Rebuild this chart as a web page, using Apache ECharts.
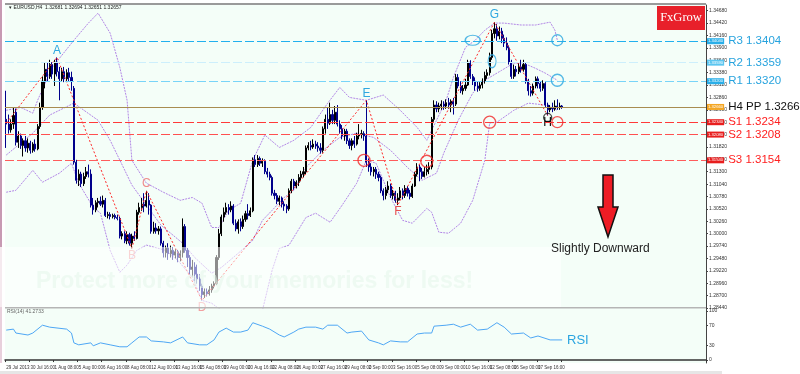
<!DOCTYPE html>
<html><head><meta charset="utf-8">
<script src="https://cdn.jsdelivr.net/npm/echarts@6/dist/echarts.min.js"></script>
<style>html,body{margin:0;padding:0;background:#fff}#c{width:800px;height:374px}</style>
</head><body><div id="c"></div>
<script>
// prices are stored as pips above BASE (value v  ->  price = BASE + v*PIP)
const BASE = 1.28, PIP = 0.0001;
const N_SLOTS = 290;

// H4 candles: [open, close, low, high]
const candles = [
[440,430,380,500],[430,418,410,450],[418,430,412,440],[430,448,420,465],[455,392,385,462],
[392,405,380,415],[405,385,378,410],[385,395,362,400],[395,380,372,405],[380,390,370,400],
[390,375,368,395],[375,388,370,392],[388,378,372,398],[378,425,375,430],[425,465,420,475],
[465,520,460,530],[520,545,505,560],[545,530,520,560],[530,555,525,565],[555,535,525,560],
[535,560,510,565],[560,540,530,570],[540,525,480,550],[525,540,520,548],[540,525,518,550],
[525,538,520,545],[538,528,520,548],[528,520,500,540],[505,350,345,510],[350,312,305,355],
[312,325,300,335],[325,305,298,330],[305,320,300,328],[320,330,315,340],[330,325,318,345],
[325,260,255,335],[260,250,240,275],[250,265,245,270],[265,268,255,275],[268,262,258,278],
[262,270,255,280],[270,238,235,275],[238,240,232,246],[240,236,230,245],[236,238,232,242],
[238,234,230,242],[234,232,228,240],[232,195,190,236],[195,200,188,205],[200,185,180,205],
[185,198,178,205],[198,180,175,202],[180,195,169,200],[195,190,185,205],[190,245,188,250],
[245,255,240,265],[255,262,248,275],[262,258,245,285],[258,270,255,290],[270,260,240,285],
[260,205,200,262],[205,212,200,225],[212,206,200,222],[206,210,198,216],[210,180,175,215],
[180,160,150,185],[160,170,150,175],[170,158,145,180],[158,165,150,175],[165,155,145,172],
[155,162,148,168],[162,150,140,166],[150,158,142,165],[160,215,150,232],[215,165,160,220],
[165,150,130,170],[150,125,115,155],[125,130,110,145],[130,115,100,140],[115,105,95,135],
[105,90,80,115],[90,72,60,95],[72,78,65,85],[78,74,68,85],[74,82,70,90],
[82,90,76,95],[90,95,85,100],[95,150,92,155],[150,200,145,210],[200,235,195,240],
[235,245,225,255],[245,255,240,265],[255,250,240,262],[250,258,245,268],[258,222,218,262],
[222,210,205,230],[210,225,200,230],[225,215,205,232],[215,230,210,238],[230,242,225,248],
[242,238,230,262],[238,248,235,255],[248,355,245,360],[355,345,340,365],[345,358,340,365],
[358,348,342,362],[348,352,340,358],[352,330,325,356],[330,325,318,338],[325,318,312,330],
[318,285,280,322],[285,280,272,292],[280,268,262,285],[268,275,260,280],[275,262,255,278],
[262,258,248,268],[258,252,243,262],[252,290,248,295],[290,310,285,315],[310,300,292,315],
[300,308,295,312],[308,318,300,325],[318,325,310,332],[325,330,318,340],[330,380,325,385],
[380,385,375,392],[385,382,375,395],[382,388,378,398],[388,384,378,395],[384,380,372,392],
[380,375,368,390],[375,420,370,425],[420,440,410,450],[440,432,420,465],[432,450,428,475],
[450,438,430,460],[438,455,430,468],[455,430,425,470],[430,420,410,438],[420,405,398,428],
[405,415,395,420],[415,395,388,420],[395,385,378,400],[385,395,375,400],[395,388,380,405],
[388,405,385,412],[405,408,398,430],[408,410,400,418],[410,405,395,415],[405,350,340,480],
[350,340,330,358],[340,330,322,348],[330,335,320,340],[335,325,315,340],[325,318,310,330],
[318,290,285,322],[290,280,270,295],[280,292,272,298],[292,300,285,310],[300,280,275,305],
[280,285,272,292],[285,270,265,290],[270,275,260,285],[275,290,270,298],[290,280,272,295],
[280,295,275,302],[295,285,278,300],[285,278,272,292],[278,300,275,305],[300,325,298,330],
[325,340,320,348],[340,330,310,345],[330,320,315,338],[320,330,318,340],[330,335,322,345],
[335,340,325,350],[340,440,335,445],[440,470,435,480],[470,462,455,478],[462,468,455,475],
[468,472,460,480],[472,468,460,478],[468,475,462,482],[475,470,462,485],[470,478,455,482],
[478,472,450,485],[472,528,468,535],[528,510,505,535],[510,500,495,520],[500,505,492,512],
[505,512,500,525],[512,560,510,565],[560,530,525,564],[530,520,512,535],[520,510,500,528],
[510,505,498,520],[505,512,500,518],[512,520,505,526],[520,532,515,540],[532,538,525,545],
[538,570,532,580],[570,620,565,628],[620,630,610,644],[630,615,605,640],[615,625,608,635],
[625,610,600,632],[610,600,592,618],[600,590,585,612],[590,560,555,595],[560,530,525,565],
[530,545,525,555],[545,540,530,552],[540,550,535,558],[550,545,538,565],[545,555,540,565],
[555,520,515,560],[520,500,490,525],[500,495,488,510],[495,510,490,515],[510,525,505,530],
[525,515,505,530],[515,505,498,520],[505,515,500,522],[515,470,465,518],[470,460,448,475],
[460,465,455,470],[465,462,455,475],[462,468,458,480],[468,465,460,482],[465,468,460,475],
[468,466,462,470]
];

// Bollinger bands: [candle index, pips]
const upperBand = [[0,459],[6,465],[11,453],[13,480],[19,549],[28,606],[34,642],[38,663],[43,621],[47,549],[50,480],[52,354],[58,306],[65,287],[72,270],[77,276],[81,264],[85,213],[88,213],[92,249],[97,264],[102,354],[107,407],[113,381],[119,396],[126,423],[133,474],[138,507],[142,486],[149,480],[156,491],[163,459],[170,423],[174,396],[176,417],[182,480],[185,528],[190,591],[194,606],[198,627],[202,642],[206,642],[213,638],[219,638],[225,644],[227,627],[228,606]];
const middleBand = [[0,365],[11,411],[18,449],[28,474],[38,438],[43,396],[48,344],[52,302],[58,260],[64,218],[73,180],[78,150],[85,117],[89,129],[96,159],[102,186],[106,228],[110,249],[115,276],[119,291],[124,339],[131,375],[138,402],[145,411],[152,402],[159,375],[166,339],[172,312],[178,327],[181,369],[187,438],[193,495],[198,522],[205,543],[210,558],[214,558],[219,547],[223,537],[228,522]];
const lowerBand = [[0,287],[4,291],[11,333],[15,308],[22,327],[27,348],[30,306],[36,255],[39,243],[43,165],[47,119],[50,134],[54,165],[58,176],[66,165],[71,144],[77,108],[81,60],[85,54],[89,39],[95,-24],[101,-24],[106,39],[110,123],[113,169],[117,176],[124,234],[128,243],[134,224],[139,260],[145,306],[149,354],[153,348],[159,276],[164,228],[168,222],[174,253],[176,245],[179,203],[183,201],[188,222],[193,270],[198,354],[200,432],[203,434],[210,459],[216,474],[223,470],[228,459]];

// zigzag swing points
const zigzagIdx   = [0,21,52,58,81,149,162,202,224];
const zigzagVal   = [432,570,169,290,60,480,260,644,448];
const zigzagNames = ['','A','B','C','D','E','F','G','H'];

// RSI(14): [candle index, value]
const rsi = [[0,61],[3,63],[4,55],[9,51],[11,55],[15,71],[18,67],[25,63],[27,55],[28,35],[30,31],[35,35],[36,29],[39,35],[43,31],[47,27],[50,27],[52,35],[55,47],[58,47],[60,39],[65,37],[68,35],[73,47],[75,35],[80,31],[83,31],[86,41],[88,57],[91,65],[94,57],[97,57],[100,61],[102,76],[106,69],[109,63],[113,51],[115,47],[119,57],[121,63],[124,67],[128,67],[131,63],[133,71],[137,71],[141,55],[143,57],[147,59],[150,41],[154,35],[156,31],[159,39],[163,37],[166,37],[170,53],[173,55],[176,55],[177,69],[182,71],[185,73],[188,67],[192,73],[195,61],[199,63],[203,76],[206,67],[209,53],[214,55],[217,45],[220,49],[225,41],[230,41]];

// H4 pivot levels
const levelNames  = ['R3','R2','R1','H4 PP','S1','S2','S3'];
const levelValues = [1.3404,1.3359,1.3320,1.3266,1.3234,1.3208,1.3154];

// date tick labels (every 10 candles)
const dateLabels = ['29 Jul 2013','30 Jul 16:00','1 Aug 08:00','5 Aug 00:00','6 Aug 16:00','8 Aug 08:00','12 Aug 00:00','13 Aug 16:00','15 Aug 08:00','19 Aug 00:00','20 Aug 16:00','22 Aug 08:00','26 Aug 00:00','27 Aug 16:00','29 Aug 08:00','2 Sep 00:00','3 Sep 16:00','5 Sep 08:00','9 Sep 00:00','10 Sep 16:00','12 Sep 08:00','16 Sep 00:00','17 Sep 16:00','19 Sep 08:00'];

// annotation circles at [candle index, pips]
const circleAt   = [[193,606],[201,562],[228,606],[228,522],[148,354],[174,352],[200,434],[228,434],[224,444]];
const circleKind = ['b','b','b','b','r','r','r','r','k'];

// ---------- styles ----------
const FONT = 'Liberation Sans';
const px = v => +(BASE + v * PIP).toFixed(5);
const cats = Array.from({length: N_SLOTS}, (_, i) => String(i));
const bandStyle = {color:'#B286E6', width:1, type:[2,1]};
const levelStyle = [
  {line:'#22B0EE', type:[9,3], tag:'#2AAEE8', text:'#27A3DE'},
  {line:'#CDEFFC', type:[9,3], tag:'#5CC6F0', text:'#27A3DE'},
  {line:'#78D4F8', type:[9,3], tag:'#2AAEE8', text:'#27A3DE'},
  {line:'#A88C50', type:'solid', tag:'#F4A623', text:'#111111'},
  {line:'#FF3A3A', type:[9,3], tag:'#E81E1E', text:'#FF2020'},
  {line:'#FF5050', type:[9,3], tag:'#E81E1E', text:'#FF2020'},
  {line:'#FF5C5C', type:[9,3], tag:'#E81E1E', text:'#FF2020'}
];
const zzColors = ['#000','#2FA7E0','#F2A0A0','#EE8C8C','#F2A0A0','#2FA7E0','#E85050','#2FA7E0','#000000'];
const circleColor = {b:'#2AA6E0', r:'#F02828', k:'#111'};
const circleSize  = [[15,10],[8,13],[11,11],[12,12],[12,12],[12,12],[12,12],[11,11],[8,8]];

const levelLines = levelValues.map((v, k) => ({
  yAxis: v,
  lineStyle: {color: levelStyle[k].line, type: levelStyle[k].type, width: 1},
  label: {
    show: true, position: 'end', distance: 1,
    formatter: '{t|' + v.toFixed(5) + '}{g|}{n|' + levelNames[k] + ' ' + v.toFixed(4) + '}',
    rich: {
      t: {backgroundColor: levelStyle[k].tag, color:'#fff', fontSize:4.2, fontFamily:FONT, padding:[1,1,1,1], verticalAlign:'middle'},
      g: {width:4},
      n: {color: levelStyle[k].text, fontSize:11.5, fontFamily:FONT, verticalAlign:'middle'}
    }
  }
}));

const zzData = zigzagIdx.map((i, k) => {
  const v = zigzagVal[k];
  const prev = k > 0 ? zigzagVal[k-1] : -Infinity;
  const next = k < zigzagVal.length - 1 ? zigzagVal[k+1] : -Infinity;
  const isHigh = k === zigzagVal.length - 1 ? v > prev : (v > prev && v > next);
  return {
    value: [i, px(v)],
    label: {show: zigzagNames[k] !== '', formatter: zigzagNames[k], position: isHigh ? 'top' : 'bottom',
            distance: 1, color: zzColors[k], fontSize: 12, fontFamily: FONT}
  };
});

const circleData = circleAt.map((p, k) => ({
  value: [p[0], px(p[1])],
  symbolSize: circleSize[k],
  itemStyle: {borderColor: circleColor[circleKind[k]]}
}));

const labelTick = (idx) => idx % 10 === 0 && idx / 10 < dateLabels.length;

const chart = echarts.init(document.getElementById('c'), null, {renderer:'canvas'});
chart.setOption({
  animation: false,
  backgroundColor: '#ffffff',
  grid: [
    {left:5, top:5, width:701, height:303, show:true, backgroundColor:'#F4FEF8', borderWidth:0},
    {left:5, top:308, width:701, height:55, show:true, backgroundColor:'#F4FEF8', borderWidth:0}
  ],
  xAxis: [
    {type:'category', gridIndex:0, data:cats, boundaryGap:true, axisLine:{show:false}, axisTick:{show:false}, axisLabel:{show:false}, splitLine:{show:false}},
    {type:'category', gridIndex:1, data:cats, boundaryGap:true,
     axisLine:{show:true, lineStyle:{color:'#333', width:1.5}},
     axisTick:{show:true, interval: labelTick, length:2, lineStyle:{color:'#333'}},
     axisLabel:{show:true, interval: labelTick, showMinLabel:true, hideOverlap:false, formatter:(val, idx) => dateLabels[idx/10] || '', fontSize:4.5, color:'#333', fontFamily:FONT, align:'left', margin:2},
     splitLine:{show:false}}
  ],
  yAxis: [
    {type:'value', gridIndex:0, position:'right', min:1.2844, max:1.3480, interval:0.0026,
     axisLine:{show:true, lineStyle:{color:'#444'}}, axisTick:{show:true, length:2, lineStyle:{color:'#444'}},
     axisLabel:{fontSize:5, color:'#333', margin:3, fontFamily:FONT, showMaxLabel:false, formatter: v => v.toFixed(5)},
     splitLine:{show:false}},
    {type:'value', gridIndex:1, position:'right', min:-6, max:106,
     axisLine:{show:true, lineStyle:{color:'#444'}},
     axisTick:{show:true, length:2, customValues:[0,30,70,100], lineStyle:{color:'#444'}},
     axisLabel:{fontSize:5, color:'#333', margin:3, fontFamily:FONT, customValues:[0,30,70,100]},
     splitLine:{show:false}}
  ],
  series: [
    {type:'line', xAxisIndex:0, yAxisIndex:0, data: upperBand.map(p => [p[0], px(p[1])]), symbol:'none', lineStyle:bandStyle, z:2, silent:true},
    {type:'line', xAxisIndex:0, yAxisIndex:0, data: middleBand.map(p => [p[0], px(p[1])]), symbol:'none', lineStyle:bandStyle, z:2, silent:true},
    {type:'line', xAxisIndex:0, yAxisIndex:0, data: lowerBand.map(p => [p[0], px(p[1])]), symbol:'none', lineStyle:bandStyle, z:2, silent:true},
    {type:'candlestick', xAxisIndex:0, yAxisIndex:0, data: candles.map(r => r.map(px)), barWidth:1.6, z:3,
     itemStyle:{color:'#000000', color0:'#00008B', borderColor:'#000000', borderColor0:'#00008B', borderWidth:1},
     markLine:{symbol:['none','none'], silent:true, animation:false, precision:5, data: levelLines}},
    {type:'line', xAxisIndex:0, yAxisIndex:0, data: zzData, symbol:'circle', symbolSize:0.1, showSymbol:true,
     itemStyle:{color:'rgba(0,0,0,0)'}, lineStyle:{color:'#FF2A2A', width:1, type:[2,2]}, z:4, silent:true},
    {type:'scatter', xAxisIndex:0, yAxisIndex:0, data: circleData, symbol:'circle',
     itemStyle:{color:'rgba(0,0,0,0)', borderWidth:1.3}, z:5, silent:true},
    {type:'line', xAxisIndex:1, yAxisIndex:1, data: rsi, symbol:'none', lineStyle:{color:'#4EA7F5', width:1}, z:3, silent:true}
  ],
  graphic: [
    {type:'rect', shape:{x:0, y:0, width:2, height:247}, style:{fill:'#C79AB3'}, z:100},
    {type:'rect', shape:{x:0, y:247, width:2, height:116}, style:{fill:'#E8D0DC'}, z:100},
    {type:'rect', shape:{x:5, y:3, width:701, height:2}, style:{fill:'#9A9A9A'}, z:100},
    {type:'rect', shape:{x:5, y:307, width:701, height:1.5}, style:{fill:'#B5B5B5'}, z:100},
    {type:'rect', shape:{x:0, y:371, width:722, height:3}, style:{fill:'#E6E6E6'}, z:100},
    {type:'text', x:9, y:8, style:{text:'\u25BE EURUSD,H4  1.32681 1.32694 1.32651 1.32657', fontSize:5, fill:'#222', fontFamily:FONT, verticalAlign:'middle'}, z:100},
    {type:'text', x:7, y:312, style:{text:'RSI(14) 41.2733', fontSize:5, fill:'#666', fontFamily:FONT, verticalAlign:'middle'}, z:100},
    {type:'rect', shape:{x:0, y:247, width:561, height:60}, style:{fill:'rgba(255,255,255,0.55)'}, z:101},
    {type:'text', x:36, y:282, style:{text:'Protect more of your memories for less!', fontSize:23, fontWeight:'bold', fill:'rgba(228,246,234,0.55)', fontFamily:FONT, verticalAlign:'middle'}, z:102},
    {type:'rect', shape:{x:657, y:6, width:48, height:24}, style:{fill:'#E8202A'}, z:110},
    {type:'text', x:681, y:18, style:{text:'FxGrow', fontSize:12.5, fill:'#fff', fontFamily:'Liberation Serif', align:'center', verticalAlign:'middle'}, z:111},
    {type:'polygon', shape:{points:[[603,175],[613,175],[613,207],[618,207],[608,237],[598,207],[603,207]]}, style:{fill:'#EE1C25', stroke:'#111', lineWidth:1.5}, z:110},
    {type:'text', x:551, y:249, style:{text:'Slightly Downward', fontSize:12, fill:'#222', fontFamily:FONT, verticalAlign:'middle'}, z:110},
    {type:'text', x:567, y:340, style:{text:'RSI', fontSize:13, fill:'#2AA5E0', fontFamily:FONT, verticalAlign:'middle'}, z:110}
  ]
});
</script></body></html>
